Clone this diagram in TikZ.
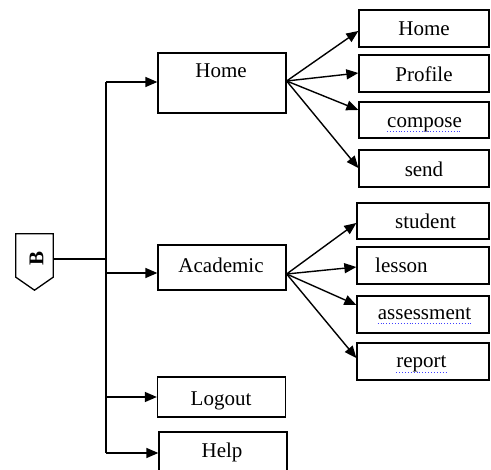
\documentclass[tikz,border=0pt]{standalone}
\usepackage{fontspec}
\setmainfont{Liberation Serif}
\usetikzlibrary{arrows.meta}
\begin{document}
\begin{tikzpicture}[x=1pt,y=-1pt,
  box/.style={draw, line width=1.3pt, inner sep=0pt},
  mainbox/.style={box, minimum width=128pt},
  subbox/.style={box, minimum height=36pt},
  lbl/.style={font=\fontsize{21}{24}\selectfont, inner sep=0pt, anchor=base},
  wire/.style={line width=1.4pt},
  link/.style={wire, -{Triangle[length=12pt,width=10pt]}},
  spell/.style={blue!75!white, line width=0.9pt, dotted}]
\useasboundingbox (0,0) rectangle (491,470);
\clip (0,0) rectangle (491,470);

% start marker B
\node[inner sep=0pt, minimum width=37pt, minimum height=43pt] (b) at (34.5,255.5) {};
\draw[box] (b.south west) -- (b.north west) -- (b.north east) -- (b.south east)
  -- ([yshift=-13pt]b.south) -- cycle;
\node[font=\fontsize{21}{24}\selectfont\bfseries, inner sep=0pt, rotate=90] (bT) at (36.5,258.5) {B};

% first level
\node[mainbox, minimum height=60pt] (home) at (222,83) {};
\node[mainbox, minimum height=45pt] (acad) at (222,267.5) {};
\node[mainbox, minimum height=40pt] (logout) at (221.5,397) {};
\node[mainbox, minimum height=48pt] (help) at (223,456) {};
\node[lbl] (homeT) at (221,78) {Home};
\node[lbl] (acadT) at (221,273) {Academic};
\node[lbl] (logoutT) at (221,406) {Logout};
\node[lbl] (helpT) at (222,458) {Help};

% second level under Home
\node[subbox, minimum width=130pt, minimum height=37pt] (sHome) at (424,28.5) {};
\node[subbox, minimum width=130pt, minimum height=37pt] (sProf) at (424,73.5) {};
\node[subbox, minimum width=130pt] (sComp) at (424,120) {};
\node[subbox, minimum width=130pt, minimum height=37pt] (sSend) at (424,168.5) {};
\node[lbl] (sHomeT) at (424,36) {Home};
\node[lbl] (sProfT) at (424,82) {Profile};
\node[lbl] (sCompT) at (424.5,128) {compose};
\node[lbl] (sSendT) at (424,177) {send};

% second level under Academic
\node[subbox, minimum width=132pt] (sStud) at (423,221) {};
\node[subbox, minimum width=132pt, minimum height=37pt] (sLess) at (423,265.5) {};
\node[subbox, minimum width=132pt, minimum height=37pt] (sAsse) at (423,314.5) {};
\node[subbox, minimum width=132pt, minimum height=37pt] (sRepo) at (423,361.5) {};
\node[lbl] (sStudT) at (425.5,229) {student};
\node[lbl, anchor=base west] (sLessT) at (375,273) {lesson};
\node[lbl] (sAsseT) at (424.5,320) {assessment};
\node[lbl] (sRepoT) at (421.5,368) {report};

% spelling marks
\draw[spell] ([yshift=-3pt]sCompT.base west) -- ([yshift=-3pt]sCompT.base east);
\draw[spell] ([yshift=-3pt]sAsseT.base west) -- ([yshift=-3pt]sAsseT.base east);
\draw[spell] ([yshift=-4pt]sRepoT.base west) -- ([yshift=-4pt]sRepoT.base east);

% trunk
\coordinate (bOut) at (b.east |- 0,259);
\coordinate (j) at (106,259);
\coordinate (t1) at (106,82);
\coordinate (t2) at (106,273);
\coordinate (t3) at (106,397);
\coordinate (t4) at (106,453);
\draw[wire] (bOut) -- (j);
\draw[wire] (t1) -- (t4);
\draw[link] (t1) -- (home.west |- t1);
\draw[link] (t2) -- (acad.west |- t2);
\draw[link] (t3) -- (logout.west |- t3);
\draw[link] (t4) -- (help.west |- t4);

% fan-outs
\coordinate (hubA) at (home.east |- 0,81);
\draw[link] (hubA) -- (sHome.west |- 0,31);
\draw[link] (hubA) -- (sProf.west |- 0,73);
\draw[link] (hubA) -- (sComp.west |- 0,110);
\draw[link] (hubA) -- (sSend.west |- 0,168);

\coordinate (hubB) at (acad.east |- 0,274);
\draw[link] (hubB) -- (sStud.west |- 0,223);
\draw[link] (hubB) -- (sLess.west |- 0,267);
\draw[link] (hubB) -- (sAsse.west |- 0,305);
\draw[link] (hubB) -- (sRepo.west |- 0,358);
\end{tikzpicture}
\end{document}
